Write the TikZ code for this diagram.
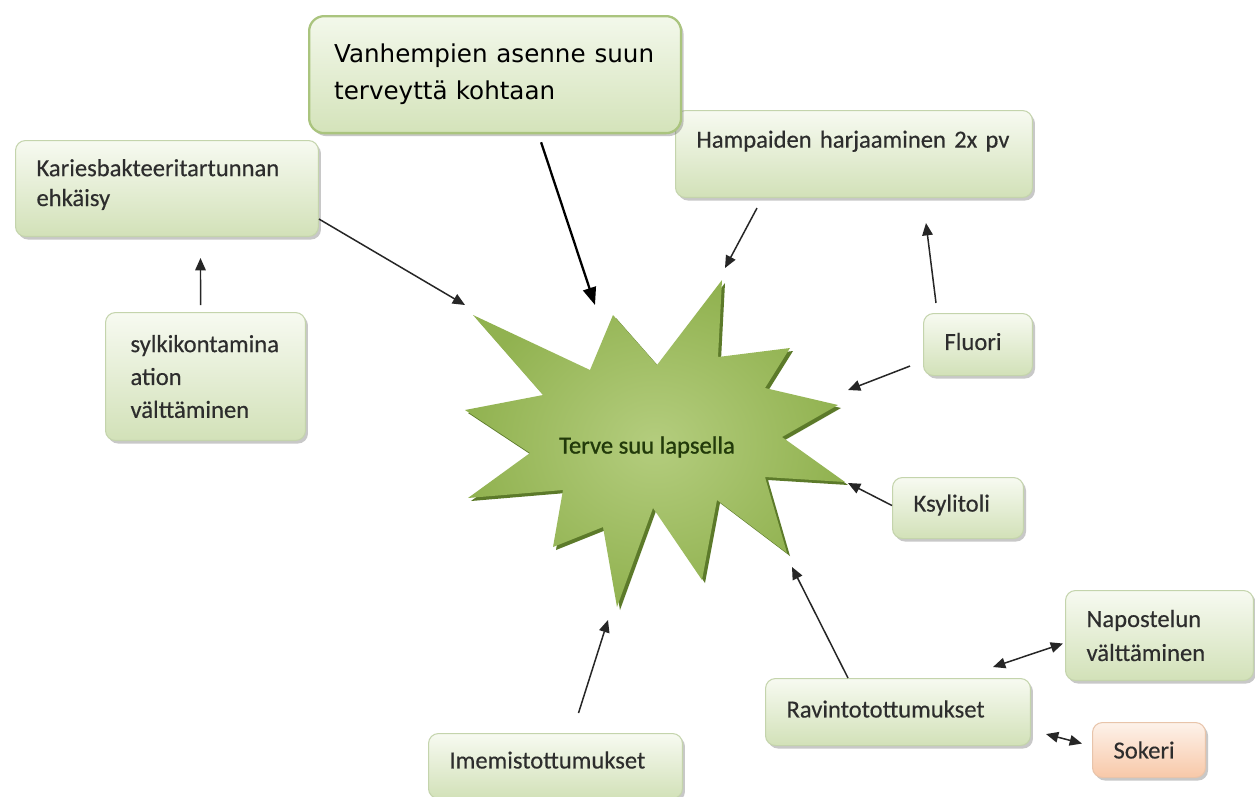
\documentclass[tikz,border=0pt]{standalone}
\usepackage{fontspec}
\setmainfont{Carlito}[FakeBold=0.35]
\newfontfamily\starf{Carlito}[FakeBold=1.0]
\newfontfamily\comicf{DejaVu Sans}
\usetikzlibrary{arrows.meta,shadows,calc}
\definecolor{bxborder}{RGB}{196,212,172}
\definecolor{bxtop}{RGB}{247,250,241}
\definecolor{bxbot}{RGB}{210,225,184}
\definecolor{topborder}{RGB}{170,196,126}
\definecolor{toptop}{RGB}{243,248,235}
\definecolor{topbot}{RGB}{212,227,186}
\definecolor{sokborder}{RGB}{232,196,170}
\definecolor{soktop}{RGB}{253,242,234}
\definecolor{sokbot}{RGB}{248,200,168}
\definecolor{txtgray}{RGB}{45,45,45}
\definecolor{starin}{RGB}{180,205,126}
\definecolor{starout}{RGB}{145,178,80}
\definecolor{starshadow}{RGB}{92,122,42}
\definecolor{startext}{RGB}{34,58,10}
\tikzset{
  gbox/.style={draw=bxborder, line width=0.6pt, rounded corners=0.2cm,
    top color=bxtop, bottom color=bxbot,
    drop shadow={shadow xshift=0.05cm, shadow yshift=-0.06cm, opacity=0.3, fill=black!70},
    inner xsep=0.42cm, inner ysep=0pt, align=left, anchor=north west,
    text=txtgray, font=\fontsize{14pt}{17pt}\selectfont},
  arr/.style={draw=black!85, line width=0.85pt, -{Triangle[length=7pt,width=6pt]}},
  darr/.style={draw=black!85, line width=0.85pt, {Triangle[length=7pt,width=6pt]}-{Triangle[length=7pt,width=6pt]}},
  bigarr/.style={draw=black, line width=1.3pt, -{Triangle[length=10pt,width=7.5pt]}},
}
\begin{document}
\begin{tikzpicture}[x=0.02cm,y=-0.02cm]
\useasboundingbox (0,0) rectangle (1255,796);
\fill[white] (0,0) rectangle (1255,796);

% star shadow
\fill[starshadow, shift={(3,3)}] (473,315) -- (590,370) -- (613,315) -- (657,365) -- (722,280) -- (718,357) -- (790,348) -- (765,388) -- (838,405) -- (782,437) -- (845,482) -- (765,477) -- (787,553) -- (717,500) -- (702,580) -- (653,508) -- (617,607) -- (603,527) -- (553,547) -- (563,490) -- (468,498) -- (530,453) -- (465,410) -- (543,395) -- cycle;
% star
\shade[inner color=starin, outer color=starout] (473,315) -- (590,370) -- (613,315) -- (657,365) -- (722,280) -- (718,357) -- (790,348) -- (765,388) -- (838,405) -- (782,437) -- (845,482) -- (765,477) -- (787,553) -- (717,500) -- (702,580) -- (653,508) -- (617,607) -- (603,527) -- (553,547) -- (563,490) -- (468,498) -- (530,453) -- (465,410) -- (543,395) -- cycle;
\node[text=startext, font=\starf\fontsize{14pt}{17pt}\selectfont] (star) at (647,447) {Terve suu lapsella};

% boxes
\node[gbox, text width=6.3cm, minimum height=1.74cm] (ham) at (675,110)
  {Hampaiden harjaaminen 2x pv\\\mbox{}};
\node[gbox, draw=topborder, line width=1.3pt, rounded corners=0.3cm,
  top color=toptop, bottom color=topbot, inner xsep=0.5cm,
  text width=6.44cm, minimum height=2.34cm, text=black,
  font=\comicf\fontsize{14pt}{21pt}\selectfont] (top) at (308,15)
  {\noindent\hbox to 6.4cm{Vanhempien\hfill asenne\hfill suun}\\terveyttä kohtaan};
\node[gbox, text width=5.22cm, minimum height=1.92cm] (kar) at (15,140)
  {\raisebox{0.08cm}[\height][\depth]{Kariesbakteeritartunnan}\\\raisebox{0.08cm}[\height][\depth]{ehkäisy}};
\node[gbox, inner xsep=0.5cm, text width=3.0cm, minimum height=2.56cm,
  font=\fontsize{14pt}{18.7pt}\selectfont] (syl) at (105,312)
  {sylkikontamina\\ation\\välttäminen};
\node[gbox, text width=1.34cm, minimum height=1.24cm] (flu) at (923,313) {\raisebox{0.06cm}[\height][\depth]{Fluori}};
\node[gbox, text width=1.78cm, minimum height=1.22cm] (ksy) at (892,477) {\raisebox{0.06cm}[\height][\depth]{Ksylitoli}};
\node[gbox, text width=2.92cm, minimum height=1.8cm,
  font=\fontsize{14pt}{19.3pt}\selectfont] (nap) at (1065,590)
  {Napostelun\\välttäminen};
\node[gbox, text width=4.46cm, minimum height=1.34cm] (rav) at (765,678) {\raisebox{0.06cm}[\height][\depth]{Ravintotottumukset}};
\node[gbox, draw=sokborder, top color=soktop, bottom color=sokbot,
  text width=1.42cm, minimum height=1.1cm] (sok) at (1092,722) {Sokeri};
\node[gbox, text width=4.24cm, minimum height=1.3cm] (ime) at (428,733) {\raisebox{0.12cm}[\height][\depth]{Imemistottumukset}};

% arrow targets at the star
\coordinate (sT) at (595,305);
\coordinate (sK) at (465,305);
\coordinate (sH) at (725,268);
\coordinate (sF) at (848,390);
\coordinate (sX) at (848,483);
\coordinate (sR) at (792,567);
\coordinate (sI) at (608,620);

% connectors
\draw[bigarr] ($(top.south)+(46,8)$) -- (sT);
\draw[arr] ($(kar.south east)+(0,-18)$) -- (sK);
\draw[arr] ($(syl.north)+(-5,-7)$) -- ($(kar.south)+(33.5,21)$);
\draw[arr] ($(ham.south west)+(82,10)$) -- (sH);
\draw[arr] ($(flu.north west)+(13,-10)$) -- ($(ham.south east)+(-107,25)$);
\draw[arr] ($(flu.south west)+(-13,-10)$) -- (sF);
\draw[arr] ($(ksy.west)+(0,-2.5)$) -- (sX);
\draw[arr] ($(rav.north west)+(83,0)$) -- (sR);
\draw[arr] ($(ime.north)+(23,-20)$) -- (sI);
\draw[darr] ($(rav.north east)+(-38,-11)$) -- ($(nap.west)+(-2,8)$);
\draw[darr] ($(rav.south east)+(15,-12)$) -- ($(sok.west)+(-10,-6.5)$);
\end{tikzpicture}
\end{document}
